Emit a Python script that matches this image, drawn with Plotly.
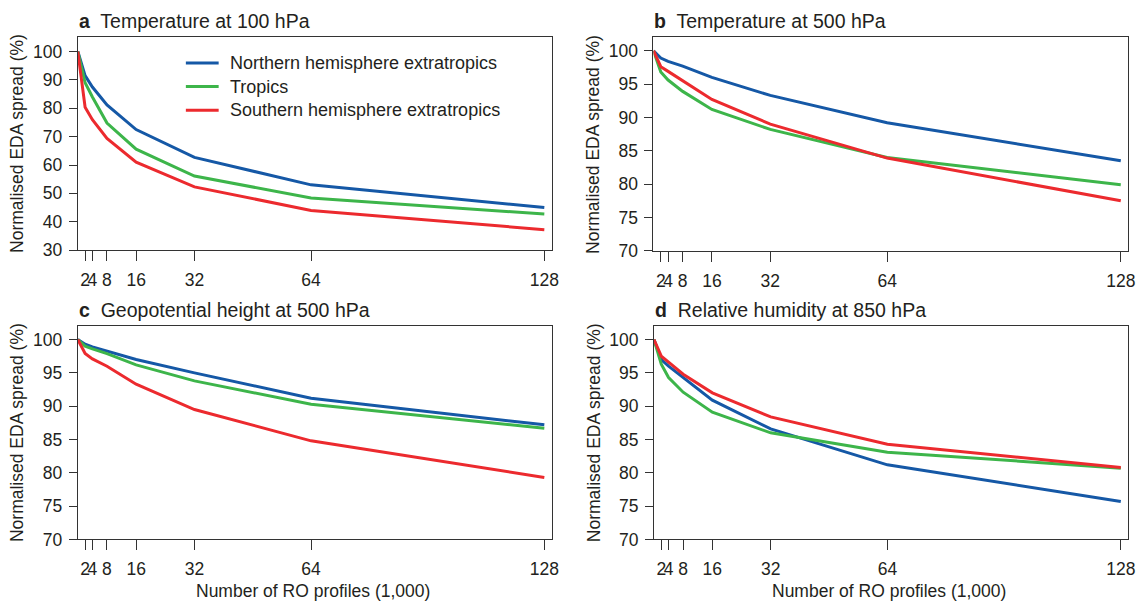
import plotly.graph_objects as go

W, H = 1148, 606

x_profiles = [0, 2, 4, 8, 16, 32, 64, 128]
tick_vals = [2, 4, 8, 16, 32, 64, 128]
tick_text = ["2", "4", "8", "16", "32", "64", "128"]

series_names = ["Northern hemisphere extratropics", "Tropics", "Southern hemisphere extratropics"]
colors = ["#1558a6", "#3db54a", "#ec2a2e"]

# Panel a: Temperature at 100 hPa
a_nh = [100, 91.5, 87.5, 81.2, 72.5, 62.7, 53.0, 45.0]
a_tr = [100, 89.0, 84.0, 74.8, 65.6, 56.1, 48.4, 42.7]
a_sh = [100, 80.4, 76.0, 69.4, 61.0, 52.3, 44.0, 37.2]

# Panel b: Temperature at 500 hPa
b_nh = [100, 98.9, 98.4, 97.7, 96.0, 93.3, 89.2, 83.5]
b_tr = [100, 96.8, 95.6, 93.9, 91.2, 88.2, 84.0, 79.9]
b_sh = [100, 97.6, 96.9, 95.5, 92.7, 89.0, 83.9, 77.5]

# Panel c: Geopotential height at 500 hPa
c_nh = [100, 99.3, 98.9, 98.3, 97.0, 95.0, 91.2, 87.2]
c_tr = [100, 99.0, 98.6, 97.9, 96.2, 93.8, 90.3, 86.7]
c_sh = [100, 97.9, 97.1, 96.0, 93.3, 89.5, 84.8, 79.3]

# Panel d: Relative humidity at 850 hPa
d_nh = [100, 97.0, 96.0, 94.3, 90.9, 86.6, 81.2, 75.7]
d_tr = [100, 96.3, 94.3, 92.1, 89.1, 86.0, 83.1, 80.7]
d_sh = [100, 97.5, 96.6, 94.8, 92.0, 88.4, 84.3, 80.8]

panels = [
    ("a", "Temperature at 100 hPa", [a_nh, a_tr, a_sh], [30, 105], [30, 40, 50, 60, 70, 80, 90, 100]),
    ("b", "Temperature at 500 hPa", [b_nh, b_tr, b_sh], [70, 102], [70, 75, 80, 85, 90, 95, 100]),
    ("c", "Geopotential height at 500 hPa", [c_nh, c_tr, c_sh], [70, 102], [70, 75, 80, 85, 90, 95, 100]),
    ("d", "Relative humidity at 850 hPa", [d_nh, d_tr, d_sh], [70, 102], [70, 75, 80, 85, 90, 95, 100]),
]

# pixel boxes (left, right, top, bottom)
boxes = [
    (78.3, 555, 38, 254.3),
    (657.5, 1135, 38, 255),
    (78.3, 555, 331.7, 548.5),
    (658, 1135, 331.7, 548.5),
]

FONT = "Liberation Sans, Arial, Helvetica, sans-serif"
TXT = "#231f20"
FS = 17.5

fig = go.Figure()
layout = dict(
    width=W, height=H,
    margin=dict(l=0, r=0, t=0, b=0),
    paper_bgcolor="white", plot_bgcolor="white",
    font=dict(family=FONT, size=FS, color=TXT),
    showlegend=False,
)
annotations = []
shapes = []

for i, (letter, title, ys, yr, yt) in enumerate(panels):
    l, r, t, b = boxes[i]
    n = "" if i == 0 else str(i + 1)
    xa, ya = "xaxis" + n, "yaxis" + n
    for j, yv in enumerate(ys):
        fig.add_trace(go.Scatter(
            x=x_profiles, y=yv, mode="lines",
            line=dict(color=colors[j], width=3),
            name=series_names[j],
            xaxis="x" + n, yaxis="y" + n,
        ))
    layout[xa] = dict(
        domain=[l / W, r / W], range=[0, 130], anchor="y" + n,
        tickmode="array", tickvals=tick_vals, ticktext=tick_text, tickangle=0,
        ticks="outside", ticklen=10, tickwidth=1, tickcolor="#333",
        ticklabelstandoff=4,
        showline=True, linecolor="#333", linewidth=1, mirror=True,
        showgrid=False, zeroline=False, tickfont=dict(size=FS, color=TXT),
    )
    layout[ya] = dict(
        domain=[1 - b / H, 1 - t / H], range=yr, anchor="x" + n,
        tickmode="array", tickvals=yt,
        ticks="outside", ticklen=8, tickwidth=1, tickcolor="#333",
        ticklabelstandoff=3,
        showline=True, linecolor="#333", linewidth=1, mirror=True,
        showgrid=False, zeroline=False, tickfont=dict(size=FS, color=TXT),
    )
    # panel title
    annotations.append(dict(
        x=(l - 1) / W, y=1 - (t - 3) / H, xref="paper", yref="paper",
        xanchor="left", yanchor="bottom", showarrow=False,
        text="<b>" + letter + "</b>  " + title, font=dict(size=19.5, color=TXT),
    ))
    # y-axis title
    annotations.append(dict(
        x=(l - 61) / W, y=1 - ((t + b) / 2) / H, xref="paper", yref="paper",
        xanchor="center", yanchor="middle", showarrow=False, textangle=-90,
        text="Normalised EDA spread (%)", font=dict(size=FS, color=TXT),
    ))
    if i >= 2:
        annotations.append(dict(
            x=((l + r) / 2 - 2) / W, y=1 - 601 / H, xref="paper", yref="paper",
            xanchor="center", yanchor="middle", showarrow=False,
            text="Number of RO profiles (1,000)", font=dict(size=FS, color=TXT),
        ))

# legend (panel a)
leg_y = [64, 88, 112]
for k, name in enumerate(series_names):
    yy = 1 - leg_y[k] / H
    shapes.append(dict(
        type="line", xref="paper", yref="paper",
        x0=187 / W, x1=220 / W, y0=yy, y1=yy,
        line=dict(color=colors[k], width=3),
    ))
    annotations.append(dict(
        x=229 / W, y=yy, xref="paper", yref="paper",
        xanchor="left", yanchor="middle", showarrow=False,
        text=name, font=dict(size=18, color=TXT),
    ))

layout["annotations"] = annotations
layout["shapes"] = shapes
fig.update_layout(**layout)
fig.write_html("out.html")
